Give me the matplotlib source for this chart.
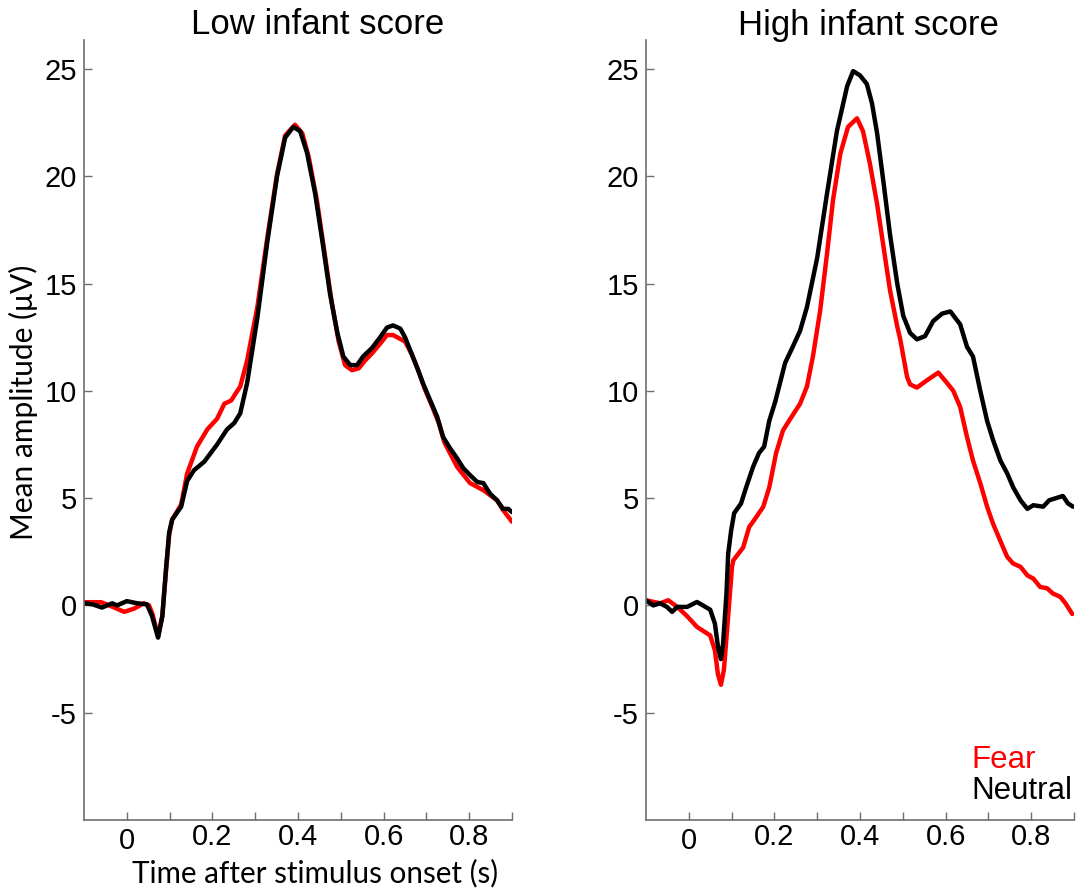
import matplotlib
matplotlib.use("Agg")
import matplotlib.pyplot as plt
from matplotlib.transforms import ScaledTranslation

plt.rcParams["axes.unicode_minus"] = False

# ERP traces (time in s, amplitude in uV)
low_neutral_t = [-0.100, -0.080, -0.058, -0.034, -0.023, 0.000, 0.024, 0.047, 0.059, 0.073,
                 0.083, 0.092, 0.099, 0.106, 0.127, 0.141, 0.157, 0.181, 0.211, 0.234,
                 0.251, 0.265, 0.281, 0.305, 0.328, 0.351, 0.370, 0.389, 0.405, 0.421,
                 0.440, 0.459, 0.475, 0.492, 0.506, 0.522, 0.538, 0.552, 0.573, 0.592,
                 0.608, 0.622, 0.639, 0.650, 0.662, 0.678, 0.692, 0.709, 0.725, 0.739,
                 0.756, 0.772, 0.786, 0.802, 0.819, 0.833, 0.849, 0.865, 0.879, 0.891, 0.900]
low_neutral_v = [0.10, 0.05, -0.10, 0.10, 0.00, 0.20, 0.10, 0.05, -0.50, -1.50,
                 -0.50, 1.80, 3.40, 4.00, 4.60, 5.80, 6.30, 6.70, 7.50, 8.20,
                 8.50, 8.95, 10.35, 13.40, 16.90, 20.00, 21.80, 22.30, 22.10, 21.10,
                 19.20, 16.70, 14.50, 12.70, 11.60, 11.20, 11.20, 11.60, 12.00, 12.50,
                 12.95, 13.05, 12.90, 12.50, 11.90, 11.10, 10.35, 9.55, 8.80, 7.85,
                 7.30, 6.85, 6.40, 6.07, 5.75, 5.70, 5.20, 4.90, 4.50, 4.50, 4.35]

low_fear_t = [-0.100, -0.060, -0.041, -0.006, 0.017, 0.040, 0.052, 0.060, 0.073, 0.083,
              0.092, 0.099, 0.106, 0.127, 0.141, 0.164, 0.188, 0.211, 0.228, 0.244,
              0.255, 0.265, 0.281, 0.305, 0.328, 0.351, 0.370, 0.393, 0.410, 0.425,
              0.444, 0.463, 0.479, 0.495, 0.510, 0.526, 0.542, 0.556, 0.573, 0.592,
              0.608, 0.622, 0.650, 0.666, 0.682, 0.696, 0.713, 0.729, 0.742, 0.772,
              0.802, 0.833, 0.865, 0.879, 0.900]
low_fear_v = [0.15, 0.15, 0.00, -0.30, -0.15, 0.10, 0.00, -0.40, -1.45, -0.50,
              1.70, 3.30, 4.00, 4.70, 6.15, 7.40, 8.20, 8.70, 9.40, 9.55,
              9.90, 10.20, 11.40, 13.90, 17.10, 20.10, 21.90, 22.40, 22.00, 20.90,
              18.90, 16.30, 14.10, 12.30, 11.20, 10.96, 11.05, 11.40, 11.75, 12.20,
              12.60, 12.60, 12.30, 11.70, 10.90, 10.10, 9.30, 8.50, 7.60, 6.45,
              5.70, 5.37, 4.90, 4.45, 3.90]

high_neutral_t = [-0.100, -0.083, -0.067, -0.051, -0.039, -0.027, -0.004, 0.019, 0.033, 0.050,
                  0.061, 0.068, 0.075, 0.080, 0.088, 0.092, 0.099, 0.106, 0.122, 0.134,
                  0.150, 0.164, 0.176, 0.188, 0.202, 0.225, 0.244, 0.260, 0.276, 0.300,
                  0.323, 0.346, 0.370, 0.384, 0.400, 0.416, 0.428, 0.440, 0.455, 0.470,
                  0.487, 0.501, 0.517, 0.533, 0.552, 0.571, 0.592, 0.611, 0.634, 0.650,
                  0.664, 0.681, 0.697, 0.711, 0.728, 0.744, 0.758, 0.775, 0.791, 0.805,
                  0.828, 0.842, 0.858, 0.874, 0.886, 0.898]
high_neutral_v = [0.24, 0.00, 0.10, -0.07, -0.30, -0.07, -0.07, 0.16, 0.00, -0.20,
                  -0.85, -1.90, -2.50, -1.80, 0.55, 2.40, 3.50, 4.30, 4.75, 5.50,
                  6.45, 7.10, 7.40, 8.60, 9.50, 11.30, 12.10, 12.80, 13.90, 16.20,
                  19.20, 22.10, 24.20, 24.90, 24.70, 24.30, 23.40, 22.00, 19.70, 17.30,
                  15.00, 13.50, 12.70, 12.40, 12.55, 13.25, 13.60, 13.70, 13.10, 12.05,
                  11.60, 10.00, 8.60, 7.70, 6.75, 6.15, 5.50, 4.90, 4.50, 4.67,
                  4.60, 4.90, 5.00, 5.10, 4.75, 4.60]

high_fear_t = [-0.100, -0.067, -0.048, -0.027, -0.004, 0.019, 0.050, 0.061, 0.068, 0.075,
               0.082, 0.090, 0.101, 0.104, 0.127, 0.141, 0.157, 0.174, 0.188, 0.204,
               0.220, 0.234, 0.260, 0.276, 0.290, 0.307, 0.323, 0.337, 0.354, 0.372,
               0.393, 0.407, 0.423, 0.440, 0.455, 0.470, 0.487, 0.494, 0.510, 0.517,
               0.533, 0.557, 0.583, 0.604, 0.618, 0.634, 0.650, 0.664, 0.681, 0.697,
               0.711, 0.728, 0.744, 0.758, 0.775, 0.791, 0.805, 0.821, 0.837, 0.851,
               0.868, 0.880, 0.896]
high_fear_v = [0.24, 0.10, 0.24, -0.07, -0.50, -1.00, -1.40, -2.10, -3.20, -3.70,
               -3.00, -1.00, 1.80, 2.10, 2.70, 3.65, 4.10, 4.60, 5.50, 7.10,
               8.15, 8.60, 9.40, 10.20, 11.60, 13.75, 16.40, 18.90, 21.05, 22.30,
               22.70, 22.10, 20.60, 18.70, 16.70, 14.70, 13.00, 12.40, 10.65, 10.30,
               10.15, 10.50, 10.85, 10.35, 10.00, 9.25, 7.85, 6.75, 5.70, 4.60,
               3.80, 3.00, 2.26, 1.95, 1.80, 1.40, 1.25, 0.86, 0.80, 0.55,
               0.40, 0.10, -0.40]

titles = ["Low infant score", "High infant score"]
xticks = [0, 0.1, 0.2, 0.3, 0.4, 0.5, 0.6, 0.7, 0.8, 0.9]
xticklabels = ["0", "", "0.2", "", "0.4", "", "0.6", "", "0.8", ""]
yticks = [-5, 0, 5, 10, 15, 20, 25]

FONT = "Liberation Sans"
LABEL_FONT = "Lato"
W, H = 1080, 893

fig = plt.figure(figsize=(10.8, 8.93), dpi=100)
ax1 = fig.add_axes([84 / W, 1 - 820 / H, 428 / W, 780 / H])
ax2 = fig.add_axes([646 / W, 1 - 820 / H, 428 / W, 780 / H])

panels = [(ax1, low_fear_t, low_fear_v, low_neutral_t, low_neutral_v),
          (ax2, high_fear_t, high_fear_v, high_neutral_t, high_neutral_v)]

for ax, ft, fv, nt, nv in panels:
    ax.plot(ft, fv, color="#ff0000", lw=3.2, solid_capstyle="round", solid_joinstyle="round")
    ax.plot(nt, nv, color="black", lw=3.2, solid_capstyle="round", solid_joinstyle="round")
    ax.set_xlim(-0.1, 0.9)
    ax.set_ylim(-10, 26.35)
    for s in ["top", "right"]:
        ax.spines[s].set_visible(False)
    for s in ["left", "bottom"]:
        ax.spines[s].set_color("#6e6e6e")
        ax.spines[s].set_linewidth(1.2)
    ax.set_xticks(xticks)
    ax.set_xticklabels(xticklabels)
    ax.set_yticks(yticks)
    ax.tick_params(direction="in", length=5.5, width=1, color="#6e6e6e",
                   labelsize=21, labelcolor="black")
    ax.tick_params(axis="x", pad=2)
    ax.tick_params(axis="y", pad=5)
    for lab in ax.get_xticklabels() + ax.get_yticklabels():
        lab.set_fontfamily(FONT)
    # the "0" label sits a little lower than the others in the original
    zero = ax.get_xticklabels()[0]
    zero.set_transform(zero.get_transform() + ScaledTranslation(0, -3 / 72, fig.dpi_scale_trans))

fig.text(318 / W, 1 - 25 / H, titles[0], ha="center", va="center", fontsize=25, family=FONT)
fig.text(868 / W, 1 - 25 / H, titles[1], ha="center", va="center", fontsize=25, family=FONT)

fig.text(315 / W, 1 - 873 / H, "Time after stimulus onset (s)", ha="center", va="center",
         fontsize=21.3, family=LABEL_FONT)
fig.text(23 / W, 1 - 402 / H, "Mean amplitude (\u03bcV)", ha="center", va="center",
         rotation=90, fontsize=21.5, family=LABEL_FONT)

fig.text(971 / W, 1 - 760 / H, "Fear", color="#ff0000", ha="left", va="center",
         fontsize=22.5, family=FONT)
fig.text(971 / W, 1 - 791 / H, "Neutral", color="black", ha="left", va="center",
         fontsize=22.5, family=FONT)

fig.savefig("out.png", dpi=100)
